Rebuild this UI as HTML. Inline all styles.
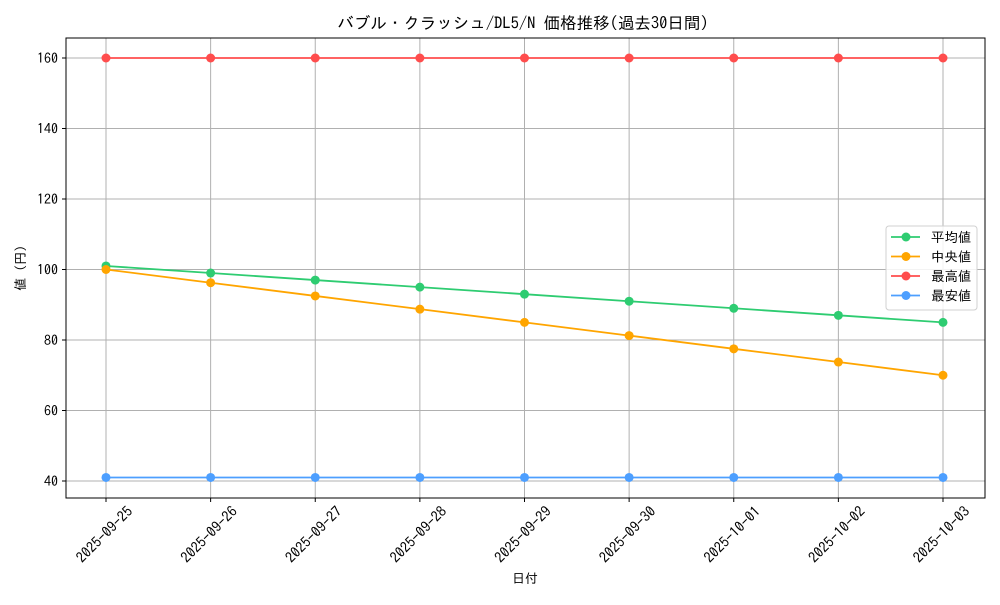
<!DOCTYPE html>
<html><head><meta charset="utf-8"><style>
body{margin:0;background:#fff;}
svg text{font-family:"IPAGothic","Noto Sans CJK JP",monospace;fill:#000;}
</style></head><body>
<svg id="chart" width="1000" height="600">
<text x="523" y="29" font-size="16.5" text-anchor="middle">バブル・クラッシュ/DL5/N 価格推移(過去30日間)</text>
<g id="grid"></g><g id="series"></g><g id="axes"></g>
<text x="525" y="583" font-size="13" text-anchor="middle">日付</text>
<text transform="translate(25,268) rotate(-90)" font-size="13" text-anchor="middle">値 (円)</text>
<g id="legend"></g>
</svg>
<script>
const dates=["2025-09-25","2025-09-26","2025-09-27","2025-09-28","2025-09-29","2025-09-30","2025-10-01","2025-10-02","2025-10-03"];
const avgVals=[101,99,97,95,93,91,89,87,85];
const medVals=[100,96.25,92.5,88.75,85,81.25,77.5,73.75,70];
const maxVals=[160,160,160,160,160,160,160,160,160];
const minVals=[41,41,41,41,41,41,41,41,41];
const yTicks=[40,60,80,100,120,140,160];
const seriesNames=["平均値","中央値","最高値","最安値"];
const NS="http://www.w3.org/2000/svg";
const L=66,R=985,T=38,B=498;
const X=i=>106+i*(943-106)/(dates.length-1);
const Y=v=>481-(v-40)*(481-58)/120;
function mk(tag,attrs,parent){const e=document.createElementNS(NS,tag);for(const k in attrs)e.setAttribute(k,attrs[k]);document.getElementById(parent).appendChild(e);return e;}
dates.forEach((d,i)=>{
 const g=mk('line',{x1:X(i),x2:X(i),y1:T,y2:B,stroke:'#b0b0b0','stroke-width':1},'grid');
 
 
 const t=mk('line',{x1:X(i),x2:X(i),y1:B,y2:B+4,stroke:'#000'},'axes');
 
 
 const lb=mk('text',{'font-size':14.5,'text-anchor':'middle',transform:`translate(${X(i)+2},${B+40}) rotate(-45)`},'axes');
 lb.textContent=d;
 
 
});
yTicks.forEach(v=>{
 const g=mk('line',{x1:L,x2:R,y1:Y(v),y2:Y(v),stroke:'#b0b0b0','stroke-width':1},'grid');
 
 
 const t=mk('line',{x1:L-4,x2:L,y1:Y(v),y2:Y(v),stroke:'#000'},'axes');
 
 
 const lb=mk('text',{x:L-8,y:Y(v)+5,'font-size':14,'text-anchor':'end'},'axes');
 lb.textContent=v;
 
 
});
const frame=mk('rect',{x:L,y:T,width:R-L,height:B-T,fill:'none',stroke:'#000','stroke-width':1},'axes');


const all=[avgVals,medVals,maxVals,minVals];
const colors=['#2ecc71','#ffa500','#ff4d4d','#4d9fff'];
const keys=['avg','median','max','min'];
all.forEach((vals,s)=>{
 const pl=mk('polyline',{points:vals.map((v,i)=>X(i)+','+Y(v)).join(' '),fill:'none',stroke:colors[s],'stroke-width':1.8},'series');
 
 
 vals.forEach((v,i)=>{
  const c=mk('circle',{cx:X(i),cy:Y(v),r:4.5,fill:colors[s]},'series');
  
  
 });
});
const box=mk('rect',{x:886,y:226,width:91,height:84,rx:3,fill:'#fff','fill-opacity':0.85,stroke:'#d0d0d0'},'legend');


seriesNames.forEach((n,s)=>{
 const y=237+s*19.5;
 const ln=mk('line',{x1:891,x2:920,y1:y,y2:y,stroke:colors[s],'stroke-width':1.8},'legend');
 
 
 const c=mk('circle',{cx:906,cy:y,r:4.5,fill:colors[s]},'legend');
 
 
 const t=mk('text',{x:931,y:y+5,'font-size':13.5},'legend');
 t.textContent=n;
 
 
});
</script>
</body></html>
